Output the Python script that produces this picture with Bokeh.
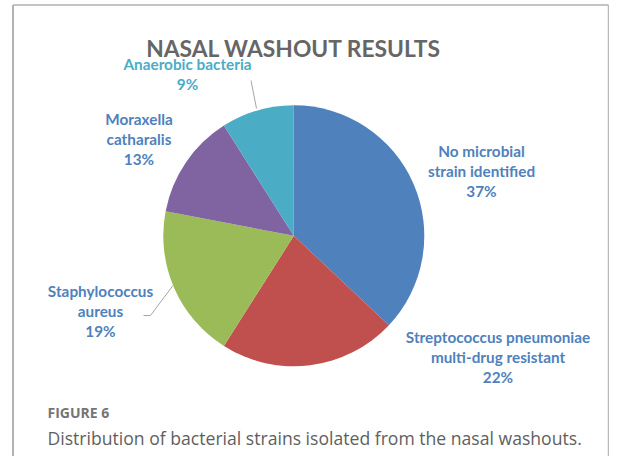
import math
from bokeh.plotting import figure
from bokeh.models import Range1d
from bokeh.core.properties import value
from bokeh.embed import file_html
from bokeh.resources import INLINE

# ---- data ----
categories = ["No microbial strain identified",
              "Streptococcus pneumoniae multi-drug resistant",
              "Staphylococcus aureus",
              "Moraxella catharalis",
              "Anaerobic bacteria"]
label_lines = [["No microbial", "strain identified"],
               ["Streptococcus pneumoniae", "multi-drug resistant"],
               ["Staphylococcus", "aureus"],
               ["Moraxella", "catharalis"],
               ["Anaerobic bacteria"]]
percents = [37, 22, 19, 13, 9]
colors = ["#4F81BD", "#C0504D", "#9BBB59", "#8064A2", "#4BACC6"]
label_colors = ["#4F81BD", "#4F81BD", "#4F81BD", "#4F81BD", "#4BACC6"]
title = "NASAL WASHOUT RESULTS"
fig_label = "FIGURE 6"
caption = "Distribution of bacterial strains isolated from the nasal washouts."

# ---- layout (picture pixel coords; data y = H - picture y) ----
W, H = 609, 456
def Y(py):
    return H - py

p = figure(width=W, height=H, output_backend="svg", toolbar_location=None,
           x_range=Range1d(0, W), y_range=Range1d(0, H),
           min_border=0, outline_line_color=None)
p.axis.visible = False
p.grid.visible = False
p.background_fill_color = "white"

# frame
p.line([12.5, 12.5], [Y(4.5), Y(H + 2)], line_color="#9a9a9a", line_width=1.5)
p.line([12.5, W - 1], [Y(4.5), Y(4.5)], line_color="#b0b0b0", line_width=1.5)
p.line([W - 1, W - 1], [Y(4.5), Y(H + 2)], line_color="#b8b8b8", line_width=1.5)

# pie
cx, cy, r = 293.3, 235.3, 130.5
total = sum(percents)
starts, ends = [], []
cum = 0.0
for v in percents:
    a0 = math.pi / 2 - 2 * math.pi * (cum + v) / total
    a1 = math.pi / 2 - 2 * math.pi * cum / total
    starts.append(a0)
    ends.append(a1)
    cum += v

p.wedge(x=[cx] * len(percents), y=[Y(cy)] * len(percents), radius=r,
        start_angle=starts, end_angle=ends, fill_color=colors,
        line_color=None)

# leader lines
p.line([172.5, 150, 143], [Y(285), Y(315), Y(315)], line_color="#a6a6a6", line_width=1)
p.line([256, 250.5], [Y(108), Y(80)], line_color="#a6a6a6", line_width=1)

# data labels (center x, first-line y)
label_pos = [(481, 150.7), (497.5, 336.5), (100, 290.5), (138.5, 118.5), (187, 63.5)]
line_h = 20
xs, ys, ts, cs = [], [], [], []
for lines, pct, col, (lx, ly) in zip(label_lines, percents, label_colors, label_pos):
    all_lines = lines + [f"{pct}%"]
    for i, t in enumerate(all_lines):
        xs.append(lx)
        ys.append(Y(ly + i * line_h))
        ts.append(t)
        cs.append(col)
p.text(x=xs, y=ys, text=ts, text_color=cs, text_align="center",
       text_baseline="middle", text_font=value("Lato"), text_font_style="bold",
       text_font_size="15.3px")

# title
p.text(x=[293.3], y=[Y(47)], text=[title], text_align="center", text_baseline="middle",
       text_font=value("Lato"), text_font_style="bold", text_font_size="22.8px",
       text_color="#666666")

# caption
p.text(x=[47], y=[Y(411.5)], text=[fig_label], text_align="left", text_baseline="middle",
       text_font=value("Open Sans"), text_font_style="bold", text_font_size="14px",
       text_color="#757575")
p.text(x=[47], y=[Y(437)], text=[caption], text_align="left", text_baseline="middle",
       text_font=value("Open Sans"), text_font_size="17.6px", text_color="#606060")

open("out.html", "w").write(file_html(p, INLINE))
